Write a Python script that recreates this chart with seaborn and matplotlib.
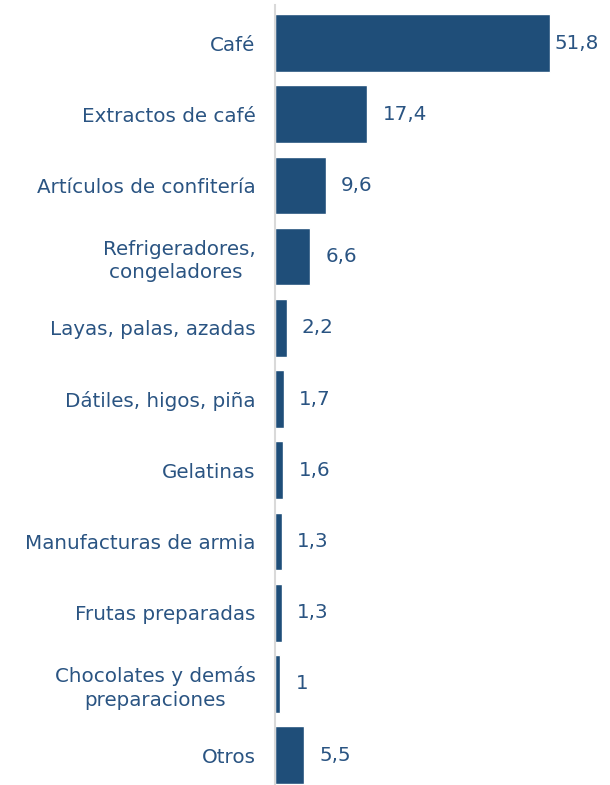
import numpy as np
import pandas as pd
import seaborn as sns
import matplotlib.pyplot as plt

categorias = [
    "Café",
    "Extractos de café",
    "Artículos de confitería",
    "Refrigeradores,\ncongeladores ",
    "Layas, palas, azadas",
    "Dátiles, higos, piña",
    "Gelatinas",
    "Manufacturas de armia",
    "Frutas preparadas",
    "Chocolates y demás\npreparaciones",
    "Otros",
]
valores = [51.8, 17.4, 9.6, 6.6, 2.2, 1.7, 1.6, 1.3, 1.3, 1.0, 5.5]

COLOR_BARRA = "#1F4E79"
COLOR_TEXTO = "#2A5482"

sns.set_theme(style="white")
plt.rcParams["font.family"] = ["DejaVu Sans"]

df = pd.DataFrame({"categoria": categorias, "valor": valores})

fig = plt.figure(figsize=(6.1, 7.85), dpi=100)
ax = fig.add_axes([275 / 610, 0, 335 / 610, 1 - 5 / 785])

sns.barplot(data=df, x="valor", y="categoria", orient="h", color=COLOR_BARRA,
            width=0.81, saturation=1, ax=ax)

ax.set_xlim(0, 63.1)
ax.set_ylim(10.42, -0.534)
ax.set_xlabel("")
ax.set_ylabel("")
ax.set_xticks([])

for s in ["top", "right", "bottom"]:
    ax.spines[s].set_visible(False)
ax.spines["left"].set_color("#D9D9D9")
ax.spines["left"].set_linewidth(1.5)

ax.tick_params(axis="y", length=0, pad=14)
for lbl in ax.get_yticklabels():
    lbl.set_multialignment("center")
    lbl.set_linespacing(1.3)
    lbl.set_fontsize(14.3)
    lbl.set_color(COLOR_TEXTO)

for i, v in enumerate(valores):
    texto = f"{v:g}".replace(".", ",")
    # la etiqueta de la barra mas larga se acerca para no salirse
    desp = 3 if v == max(valores) else 11
    ax.annotate(texto, xy=(v, i), xytext=(desp, 0), textcoords="offset points",
                va="center", ha="left", fontsize=14.3, color=COLOR_TEXTO)

fig.savefig("out.png", dpi=100)
